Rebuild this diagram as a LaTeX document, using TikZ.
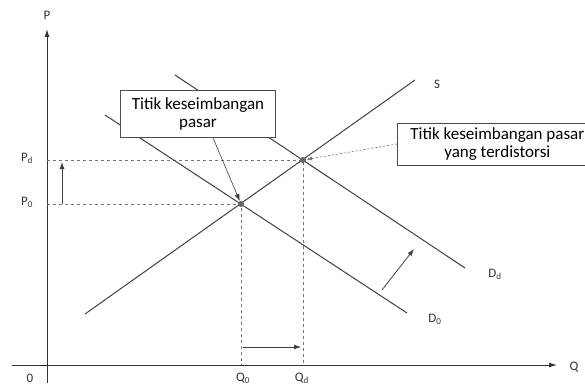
\documentclass[tikz,border=0pt]{standalone}
\usepackage{fontspec}
\setmainfont{Carlito}
\usetikzlibrary{arrows.meta}

\tikzset{
  axis/.style={line width=1pt, draw=black!80, -{Latex[length=8pt,width=5pt]}},
  curve/.style={line width=1pt, draw=black!75},
  guide/.style={line width=0.7pt, draw=black!55, dash pattern=on 3pt off 3pt},
  shiftarrow/.style={line width=0.8pt, draw=black!75, -{Latex[length=7pt,width=5pt]}},
  eqpt/.style={circle, fill=black!60, inner sep=0pt, minimum size=6pt},
  callout/.style={draw=black!70, line width=0.7pt, align=center, inner sep=2pt,
    font=\fontsize{17}{18}\selectfont},
  lbl/.style={font=\fontsize{13}{14}\selectfont, text=black!80}
}

\begin{document}
\begin{tikzpicture}[x=1pt,y=-1pt]
  \clip (0,0) rectangle (585,385);
  % axes
  \coordinate (O) at (47,365);
  \coordinate (ytop) at (47,29);
  \coordinate (ybot) at (47,383);
  \coordinate (xleft) at (12,365);
  \coordinate (xright) at (557,365);
  \draw[axis] (ybot) -- (ytop);
  \draw[axis] (xleft) -- (xright);
  \node[lbl] (plabel) at (47,15) {P};
  \node[lbl] (qlabel) at (574,367) {Q};
  \node[lbl] (orig) at (30,378) {0};
  % equilibria
  \coordinate (E0) at (241,204);
  \coordinate (E1) at (303,160);
  % dashed guides to the axes
  \draw[guide] (E0 -| O) -- (E0) -- (E0 |- O);
  \draw[guide] (E1 -| O) -- (E1) -- (E1 |- O);
  % supply and demand lines
  \coordinate (S0) at (85,314);
  \coordinate (S1) at (415,80);
  \coordinate (Da) at (105,115);
  \coordinate (Db) at (407,313);
  \coordinate (Dc) at (175,75);
  \coordinate (Dd) at (465,268);
  \draw[curve] (S0) -- (S1);
  \draw[curve] (Da) -- (Db);
  \draw[curve] (Dc) -- (Dd);
  \node[lbl] (slabel) at (437,84) {S};
  \node[lbl] (d0label) at (435,319) {D\textsubscript{0}};
  \node[lbl] (ddlabel) at (495,274) {D\textsubscript{d}};
  % axis labels of the equilibria
  \node[lbl] (p0label) at (27,202) {P\textsubscript{0}};
  \node[lbl] (pdlabel) at (27,158) {P\textsubscript{d}};
  \node[lbl] (q0label) at (243,378) {Q\textsubscript{0}};
  \node[lbl] (qdlabel) at (302,378) {Q\textsubscript{d}};
  % shift arrows
  \coordinate (pa) at (62,204);
  \coordinate (pb) at (62,162);
  \coordinate (qa) at (243,347);
  \coordinate (qb) at (301,347);
  \coordinate (da) at (382,290);
  \coordinate (db) at (414,249);
  \draw[shiftarrow] (pa) -- (pb);
  \draw[shiftarrow] (qa) -- (qb);
  \draw[shiftarrow] (da) -- (db);
  % equilibrium points
  \node[eqpt] (e0) at (E0) {};
  \node[eqpt] (e1) at (E1) {};
  % callouts
  \node[callout, fill=white, minimum width=155pt, minimum height=47pt] (box1) at (198,114)
    {Titik keseimbangan\\pasar};
  \node[callout, fill=white, anchor=west, minimum width=200pt, minimum height=42pt] (box2) at (397,144)
    {Titik keseimbangan pasar\\yang terdistorsi};
  \draw[shiftarrow, line width=0.6pt] ([xshift=15pt]box1.south) -- (e0);
  \draw[line width=0.6pt, draw=black!55, dash pattern=on 2pt off 2pt,
    -{Latex[length=6pt,width=4pt]}] (box2.west) -- (e1);
\end{tikzpicture}
\end{document}
